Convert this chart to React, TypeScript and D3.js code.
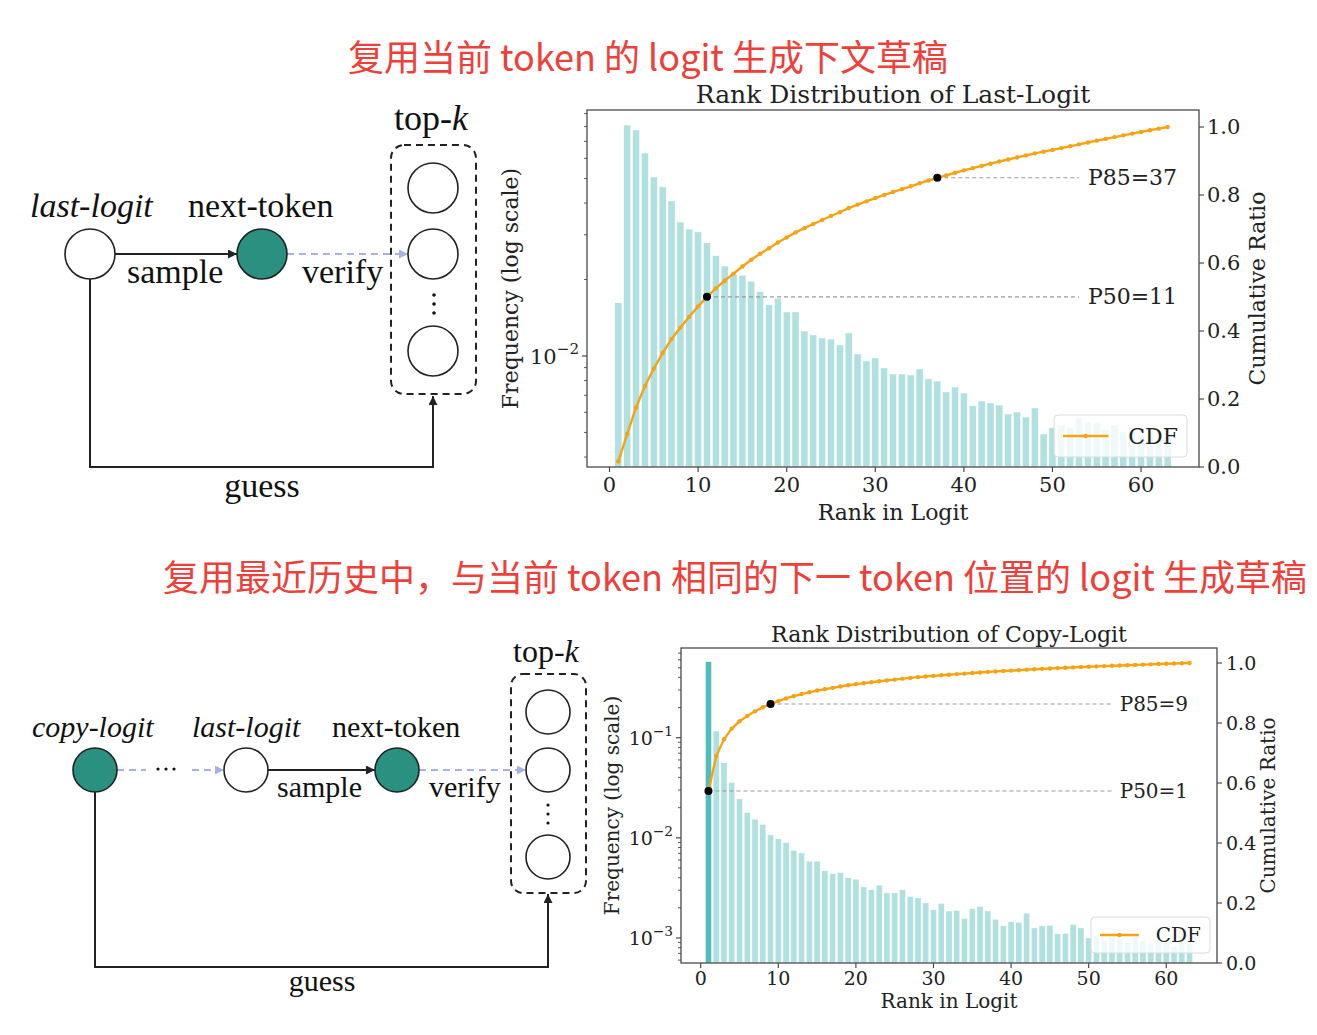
import React from 'react';
import * as d3 from 'd3';

// ---------------- DATA ----------------
const lastLogitFreq = [
  0.0162, 0.0811, 0.0776, 0.063, 0.0507, 0.0463, 0.0408, 0.0337, 0.0316, 0.0308,
  0.0279, 0.0248, 0.0226, 0.021, 0.0208, 0.0197, 0.0179, 0.0159, 0.0169, 0.0149,
  0.0149, 0.01254, 0.0121, 0.01177, 0.01166, 0.01105, 0.01232, 0.01018, 0.00956, 0.00982,
  0.00897, 0.00849, 0.00849, 0.00842, 0.00889, 0.00812, 0.00797, 0.00722, 0.00755, 0.00715,
  0.00636, 0.00665, 0.00653, 0.00641, 0.00591, 0.00602, 0.00575, 0.00624, 0.00493, 0.00521,
  0.00535, 0.00521, 0.0057, 0.0055, 0.00545, 0.00511, 0.00535, 0.00502, 0.00521, 0.00489,
  0.00502, 0.00467, 0.0048,
];
const copyLogitFreq = [
  0.575, 0.1167, 0.0562, 0.0356, 0.0245, 0.0179, 0.01538, 0.01365, 0.01072, 0.00977,
  0.00895, 0.0075, 0.00708, 0.00585, 0.00585, 0.0047, 0.0044, 0.00451, 0.004, 0.00386,
  0.00324, 0.00303, 0.00337, 0.00282, 0.00282, 0.00303, 0.0026, 0.00251, 0.00224, 0.00191,
  0.00222, 0.00186, 0.00188, 0.00157, 0.00196, 0.00207, 0.00186, 0.00154, 0.00132, 0.00145,
  0.00143, 0.00177, 0.00126, 0.00132, 0.00134, 0.00111, 0.00111, 0.00137, 0.00126, 0.001,
  0.00106, 0.00095, 0.00114, 0.00099, 0.0009, 0.00104, 0.00095, 0.00087, 0.00099, 0.0009,
  0.00082, 0.00095, 0.00087,
];
const rankTicks = [0, 10, 20, 30, 40, 50, 60];
const cdfTicks = [0, 0.2, 0.4, 0.6, 0.8, 1.0];
const lastPercentiles = [
  { label: 'P50', rank: 11 },
  { label: 'P85', rank: 37 },
];
const copyPercentiles = [
  { label: 'P50', rank: 1 },
  { label: 'P85', rank: 9 },
];
const lastTitle = 'Rank Distribution of Last-Logit';
const copyTitle = 'Rank Distribution of Copy-Logit';
const heading1 = '复用当前 token 的 logit 生成下文草稿';
const heading2 = '复用最近历史中，与当前 token 相同的下一 token 位置的 logit 生成草稿';

// ---------------- STYLE ----------------
const SERIF = "'DejaVu Serif', serif";
const TIMES = "'Liberation Serif', 'Times New Roman', serif";
const CJK = "'Noto Sans CJK SC', 'Noto Sans', sans-serif";
const BAR = '#b0e0e0';
const BAR_HI = '#50bcbc';
const ORANGE = '#f5a312';
const AXIS = '#4a4a4a';
const TEAL = '#2a9080';
const LAV = '#a8b2e2';
const INK = '#222';

type Fs = { title: number; tick: number; label: number; ann: number; legend: number };

function RankChart(props: {
  x0: number; y0: number; x1: number; y1: number;
  freq: number[]; yDomain: [number, number]; title: string;
  percentiles: { label: string; rank: number }[]; highlightFirst: boolean;
  fs: Fs; legend: { x: number; y: number; w: number; h: number };
  leftLabelX: number; rightLabelX: number; rightTickX: number; xTickY: number; xLabelY: number; titleY: number;
}) {
  const { x0, y0, x1, y1, freq, yDomain, title, percentiles, highlightFirst, fs, legend } = props;
  const xs = d3.scaleLinear().domain([-2.54, 66.54]).range([x0, x1]);
  const ys = d3.scaleLog().domain(yDomain).range([y1, y0]);
  const yc = d3.scaleLinear().domain([0, 1.05]).range([y1, y0]);
  const ranks = freq.map((_, i) => i + 1);
  const total = d3.sum(freq);
  const cum = Array.from(d3.cumsum(freq)).map((v) => v / total);
  const line = d3.line<number>().x((_, i) => xs(ranks[i])).y((d) => yc(d));
  const logTicks = ys.ticks();
  const isMajor = (v: number) => Math.abs(Math.log10(v) - Math.round(Math.log10(v))) < 1e-6;
  const midY = (y0 + y1) / 2;
  const midX = (x0 + x1) / 2;
  return (
    <g>
      {freq.map((v, i) => (
        <rect key={i} x={xs(ranks[i] - 0.4)} y={ys(v)} width={xs(ranks[i] + 0.4) - xs(ranks[i] - 0.4)}
          height={y1 - ys(v)} fill={highlightFirst && i === 0 ? BAR_HI : BAR} stroke="#fff" strokeWidth={0.5} />
      ))}
      {percentiles.map((p) => {
        const c = cum[p.rank - 1];
        return (
          <g key={p.label}>
            <line x1={xs(p.rank)} x2={xs(53)} y1={yc(c)} y2={yc(c)} stroke="#9a9a9a" strokeWidth={1.1} strokeDasharray="4,3" />
            <text x={xs(54)} y={yc(c)} dominantBaseline="central" fontFamily={SERIF} fontSize={fs.ann} fill="#222">
              {`${p.label}=${p.rank}`}
            </text>
          </g>
        );
      })}
      <path d={line(cum) || ''} fill="none" stroke={ORANGE} strokeWidth={2.4} />
      {cum.map((c, i) => (
        <circle key={i} cx={xs(ranks[i])} cy={yc(c)} r={2.2} fill={ORANGE} />
      ))}
      {percentiles.map((p) => (
        <circle key={p.label} cx={xs(p.rank)} cy={yc(cum[p.rank - 1])} r={4} fill="#000" />
      ))}
      <rect x={legend.x} y={legend.y} width={legend.w} height={legend.h} rx={4} fill="#fff" fillOpacity={0.8} stroke="#dcdcdc" />
      <line x1={legend.x + 9} x2={legend.x + 9 + legend.h * 1.08} y1={legend.y + legend.h / 2} y2={legend.y + legend.h / 2} stroke={ORANGE} strokeWidth={2.4} />
      <circle cx={legend.x + 9 + legend.h * 0.54} cy={legend.y + legend.h / 2} r={2.2} fill={ORANGE} />
      <text x={legend.x + legend.w - 9} y={legend.y + legend.h / 2} textAnchor="end" dominantBaseline="central" fontFamily={SERIF} fontSize={fs.legend} fill="#222">CDF</text>
      <rect x={x0} y={y0} width={x1 - x0} height={y1 - y0} fill="none" stroke={AXIS} strokeWidth={1.3} />
      {rankTicks.map((t) => (
        <g key={t}>
          <line x1={xs(t)} x2={xs(t)} y1={y1} y2={y1 + 5} stroke={AXIS} strokeWidth={1.2} />
          <text x={xs(t)} y={props.xTickY} textAnchor="middle" dominantBaseline="central" fontFamily={SERIF} fontSize={fs.tick} fill="#222">{t}</text>
        </g>
      ))}
      {logTicks.map((t, i) => {
        const major = isMajor(t);
        const y = ys(t);
        const e = Math.round(Math.log10(t));
        return (
          <g key={i}>
            <line x1={x0 - (major ? 5 : 3)} x2={x0} y1={y} y2={y} stroke={AXIS} strokeWidth={major ? 1.2 : 0.9} />
            {major && (
              <text x={x0 - 8} y={y + fs.tick * 0.36} textAnchor="end" fontFamily={SERIF} fontSize={fs.tick} fill="#222">
                10<tspan dy={-fs.tick * 0.45} fontSize={fs.tick * 0.72}>{`−${-e}`}</tspan>
              </text>
            )}
          </g>
        );
      })}
      {cdfTicks.map((t) => (
        <g key={t}>
          <line x1={x1} x2={x1 + 5} y1={yc(t)} y2={yc(t)} stroke={AXIS} strokeWidth={1.2} />
          <text x={props.rightTickX} y={yc(t)} dominantBaseline="central" fontFamily={SERIF} fontSize={fs.tick} fill="#222">{t.toFixed(1)}</text>
        </g>
      ))}
      <text x={midX} y={props.titleY} textAnchor="middle" dominantBaseline="central" fontFamily={SERIF} fontSize={fs.title} fill="#222">{title}</text>
      <text x={midX} y={props.xLabelY} textAnchor="middle" dominantBaseline="central" fontFamily={SERIF} fontSize={fs.label} fill="#222">Rank in Logit</text>
      <text transform={`translate(${props.leftLabelX},${midY}) rotate(-90)`} textAnchor="middle" dominantBaseline="central" fontFamily={SERIF} fontSize={fs.label} fill="#222">Frequency (log scale)</text>
      <text transform={`translate(${props.rightLabelX},${midY}) rotate(-90)`} textAnchor="middle" dominantBaseline="central" fontFamily={SERIF} fontSize={fs.label} fill="#222">Cumulative Ratio</text>
    </g>
  );
}

function Markers() {
  return (
    <defs>
      <marker id="arrK" viewBox="0 0 10 10" refX={10} refY={5} markerWidth={11} markerHeight={9} markerUnits="userSpaceOnUse" orient="auto">
        <path d="M0,0 L10,5 L0,10 z" fill={INK} />
      </marker>
      <marker id="arrL" viewBox="0 0 10 10" refX={10} refY={5} markerWidth={11} markerHeight={9} markerUnits="userSpaceOnUse" orient="auto">
        <path d="M0,0 L10,5 L0,10 z" fill={LAV} />
      </marker>
    </defs>
  );
}

function Node({ cx, cy, r, filled }: { cx: number; cy: number; r: number; filled: boolean }) {
  return <circle cx={cx} cy={cy} r={r} fill={filled ? TEAL : '#fff'} stroke={INK} strokeWidth={1.6} />;
}

function TopDiagram() {
  const r = 25, cy = 254, fs = 34;
  return (
    <g>
      <text x={30} y={217} fontFamily={TIMES} fontStyle="italic" fontSize={fs} fill="#111">last-logit</text>
      <text x={188} y={217} fontFamily={TIMES} fontSize={fs} fill="#111">next-token</text>
      <text x={394} y={130} fontFamily={TIMES} fontSize={36} fill="#111">top-<tspan fontStyle="italic">k</tspan></text>
      <line x1={90 + r} x2={262 - r} y1={cy} y2={cy} stroke={INK} strokeWidth={2} markerEnd="url(#arrK)" />
      <line x1={262 + r} x2={433 - r} y1={cy} y2={cy} stroke={LAV} strokeWidth={2} strokeDasharray="7,5" markerEnd="url(#arrL)" />
      <text x={127} y={283} fontFamily={TIMES} fontSize={fs} fill="#111">sample</text>
      <text x={302} y={283} fontFamily={TIMES} fontSize={fs} fill="#111">verify</text>
      <rect x={391} y={145} width={85} height={249} rx={13} fill="none" stroke={INK} strokeWidth={2} strokeDasharray="7,5" />
      <Node cx={90} cy={cy} r={r} filled={false} />
      <Node cx={262} cy={cy} r={r} filled={true} />
      <Node cx={433} cy={188} r={r} filled={false} />
      <Node cx={433} cy={254} r={r} filled={false} />
      <Node cx={433} cy={351} r={r} filled={false} />
      {[295, 304, 313].map((y) => <circle key={y} cx={434} cy={y} r={1.8} fill="#111" />)}
      <path d={`M90,${cy + r} V467 H433 V396`} fill="none" stroke={INK} strokeWidth={2} markerEnd="url(#arrK)" />
      <text x={262} y={497} textAnchor="middle" fontFamily={TIMES} fontSize={fs} fill="#111">guess</text>
    </g>
  );
}

function BottomDiagram() {
  const r = 22, cy = 770, fs = 30;
  return (
    <g>
      <text x={32} y={737} fontFamily={TIMES} fontStyle="italic" fontSize={fs} fill="#111">copy-logit</text>
      <text x={192} y={737} fontFamily={TIMES} fontStyle="italic" fontSize={fs} fill="#111">last-logit</text>
      <text x={332} y={737} fontFamily={TIMES} fontSize={fs} fill="#111">next-token</text>
      <text x={513} y={662} fontFamily={TIMES} fontSize={32} fill="#111">top-<tspan fontStyle="italic">k</tspan></text>
      <line x1={95 + r} x2={146} y1={cy} y2={cy} stroke={LAV} strokeWidth={2} strokeDasharray="7,5" />
      {[158, 166, 174].map((x) => <circle key={x} cx={x} cy={cy - 1} r={1.6} fill="#111" />)}
      <line x1={192} x2={246 - r} y1={cy} y2={cy} stroke={LAV} strokeWidth={2} strokeDasharray="7,5" markerEnd="url(#arrL)" />
      <line x1={246 + r} x2={397 - r} y1={cy} y2={cy} stroke={INK} strokeWidth={2} markerEnd="url(#arrK)" />
      <line x1={397 + r} x2={548 - r} y1={cy} y2={cy} stroke={LAV} strokeWidth={2} strokeDasharray="7,5" markerEnd="url(#arrL)" />
      <text x={277} y={797} fontFamily={TIMES} fontSize={fs} fill="#111">sample</text>
      <text x={429} y={797} fontFamily={TIMES} fontSize={fs} fill="#111">verify</text>
      <rect x={511} y={674} width={75} height={219} rx={12} fill="none" stroke={INK} strokeWidth={2} strokeDasharray="7,5" />
      <Node cx={95} cy={cy} r={r} filled={true} />
      <Node cx={246} cy={cy} r={r} filled={false} />
      <Node cx={397} cy={cy} r={r} filled={true} />
      <Node cx={548} cy={712} r={r} filled={false} />
      <Node cx={548} cy={770} r={r} filled={false} />
      <Node cx={548} cy={857} r={r} filled={false} />
      {[805, 814, 823].map((y) => <circle key={y} cx={548} cy={y} r={1.6} fill="#111" />)}
      <path d={`M95,${cy + r} V967 H548 V894`} fill="none" stroke={INK} strokeWidth={2} markerEnd="url(#arrK)" />
      <text x={322} y={991} textAnchor="middle" fontFamily={TIMES} fontSize={fs} fill="#111">guess</text>
    </g>
  );
}

export default function App() {
  return (
    <svg width={1317} height={1035} viewBox="0 0 1317 1035" style={{ position: 'absolute', left: 0, top: 0, background: '#fff' }}>
      <rect width={1317} height={1035} fill="#fff" />
      <Markers />
      <text x={648} y={55} textAnchor="middle" dominantBaseline="central" fontFamily={CJK} fontSize={36} fill="#ee3f3a">{heading1}</text>
      <text x={735} y={575} textAnchor="middle" dominantBaseline="central" fontFamily={CJK} fontSize={36} fill="#ee3f3a">{heading2}</text>
      <TopDiagram />
      <BottomDiagram />
      <RankChart x0={587} y0={110} x1={1199} y1={467} freq={lastLogitFreq} yDomain={[3.655e-3, 0.093]}
        title={lastTitle} percentiles={lastPercentiles} highlightFirst={false}
        fs={{ title: 25, tick: 21, label: 22, ann: 22, legend: 22 }}
        legend={{ x: 1054, y: 415, w: 133, h: 42 }}
        leftLabelX={510} rightLabelX={1257} rightTickX={1207} xTickY={485} xLabelY={512} titleY={94} />
      <RankChart x0={681} y0={648} x1={1217} y1={963} freq={copyLogitFreq} yDomain={[5.62e-4, 0.787]}
        title={copyTitle} percentiles={copyPercentiles} highlightFirst={true}
        fs={{ title: 22, tick: 19, label: 20, ann: 20, legend: 20 }}
        legend={{ x: 1091, y: 917, w: 119, h: 36 }}
        leftLabelX={612} rightLabelX={1268} rightTickX={1226} xTickY={978} xLabelY={1001} titleY={634} />
    </svg>
  );
}
